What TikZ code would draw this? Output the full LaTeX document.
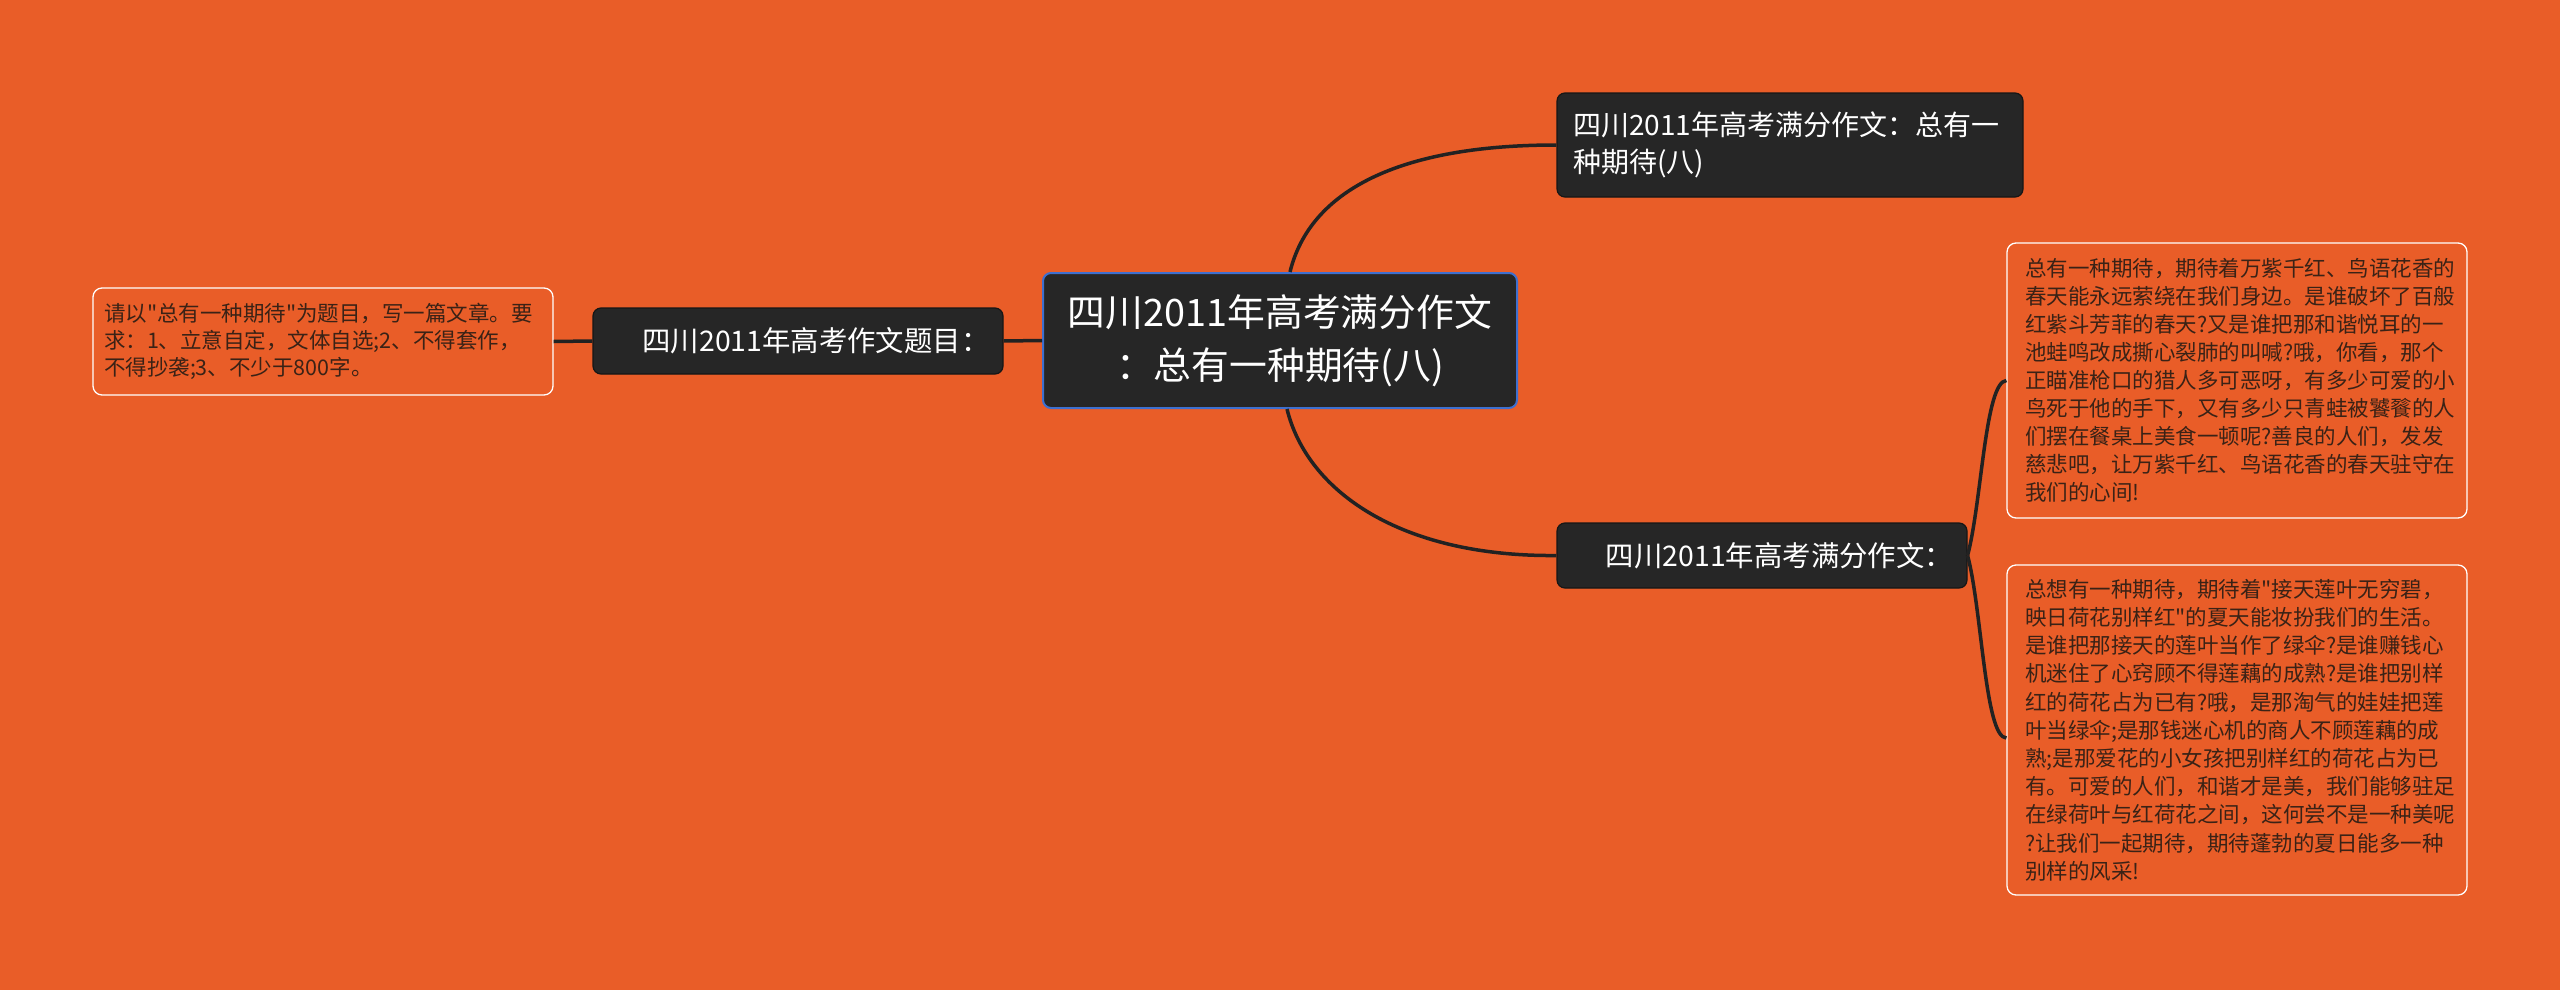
\documentclass[tikz,border=0pt]{standalone}
\usepackage{fontspec}
\newfontfamily\cjk{Noto Sans CJK SC}
\definecolor{bg}{HTML}{E95D28}
\definecolor{dark}{HTML}{262626}
\definecolor{darkline}{HTML}{161616}
\definecolor{rootblue}{HTML}{3D6FCF}
\definecolor{leaftext}{HTML}{3A2216}
\definecolor{conn}{HTML}{222222}
\tikzset{
  darkbox/.style={draw=darkline, line width=1.2pt, fill=dark, rounded corners=8pt, text=white, inner ysep=0pt},
  rootbox/.style={draw=rootblue, line width=2pt, fill=dark, rounded corners=8pt, text=white, inner ysep=0pt},
  leafbox/.style={draw=white, line width=1.3pt, fill=bg, rounded corners=9pt, text=leaftext, inner ysep=0pt},
  conn/.style={draw=conn, line width=3.5pt}
}
\begin{document}
\begin{tikzpicture}[x=1pt,y=-1pt]
\fill[bg] (0,0) rectangle (2560,990);
\useasboundingbox (0,0) rectangle (2560,990);

% root
\node[rootbox, minimum width=474pt, minimum height=135pt, align=center, font=\cjk\fontsize{37.8}{53}\selectfont] (root) at (1280,340.5) {四川2011年高考满分作文\\：总有一种期待(八)};

% top right
\node[darkbox, minimum height=104pt, inner xsep=16pt, text width=434pt, align=left, font=\cjk\fontsize{28}{37}\selectfont] (tr) at (1790,145) {四川2011年高考满分作文：总有一\\种期待(八)};

% left mid
\node[darkbox, minimum width=410pt, minimum height=66pt, align=center, font=\cjk\fontsize{28.4}{34}\selectfont] (lm) at (798,341) {\hspace{36pt}四川2011年高考作文题目：};

% right mid
\node[darkbox, minimum width=410pt, minimum height=65pt, align=center, font=\cjk\fontsize{28.4}{34}\selectfont] (rm) at (1762,555.5) {\hspace{35pt}四川2011年高考满分作文：};

% left leaf
\node[leafbox, minimum height=107pt, inner xsep=11pt, text width=438pt, align=left, font=\cjk\fontsize{21.5}{27}\selectfont] (ll) at (323,341.5) {请以"总有一种期待"为题目，写一篇文章。要\\求：1、立意自定，文体自选;2、不得套作，\\不得抄袭;3、不少于800字。};

% right leaf 1
\node[leafbox, minimum height=275pt, inner xsep=18pt, text width=424pt, align=left, font=\cjk\fontsize{21.5}{28}\selectfont] (la) at (2237,380.5) {总有一种期待，期待着万紫千红、鸟语花香的\\春天能永远萦绕在我们身边。是谁破坏了百般\\红紫斗芳菲的春天?又是谁把那和谐悦耳的一\\池蛙鸣改成撕心裂肺的叫喊?哦，你看，那个\\正瞄准枪口的猎人多可恶呀，有多少可爱的小\\鸟死于他的手下，又有多少只青蛙被饕餮的人\\们摆在餐桌上美食一顿呢?善良的人们，发发\\慈悲吧，让万紫千红、鸟语花香的春天驻守在\\我们的心间!};

% right leaf 2
\node[leafbox, minimum height=330pt, inner xsep=18pt, text width=424pt, align=left, font=\cjk\fontsize{21.5}{28.2}\selectfont] (lb) at (2237,730) {总想有一种期待，期待着"接天莲叶无穷碧，\\映日荷花别样红"的夏天能妆扮我们的生活。\\是谁把那接天的莲叶当作了绿伞?是谁赚钱心\\机迷住了心窍顾不得莲藕的成熟?是谁把别样\\红的荷花占为已有?哦，是那淘气的娃娃把莲\\叶当绿伞;是那钱迷心机的商人不顾莲藕的成\\熟;是那爱花的小女孩把别样红的荷花占为已\\有。可爱的人们，和谐才是美，我们能够驻足\\在绿荷叶与红荷花之间，这何尝不是一种美呢\\?让我们一起期待，期待蓬勃的夏日能多一种\\别样的风采!};

% connectors
\draw[conn] (root.west) -- (lm.east);
\draw[conn] (lm.west) -- (ll.east);
\draw[conn] ([xshift=10pt]root.north) .. controls (1310,190) and (1400,145) .. (tr.west);
\draw[conn] ([xshift=7pt]root.south) .. controls (1307,491) and (1400,557) .. (rm.west);
\draw[conn] (rm.east) .. controls (1982,500) and (1985,382) .. (la.west);
\draw[conn] (rm.east) .. controls (1982,610) and (1985,738) .. ([yshift=-8pt]lb.west);
\end{tikzpicture}
\end{document}
